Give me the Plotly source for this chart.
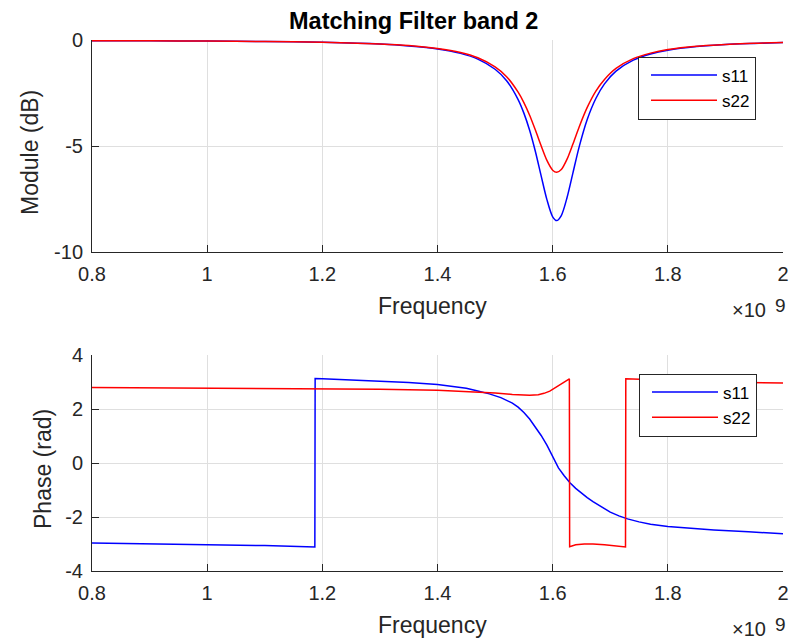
import plotly.graph_objects as go

# ---------------- data ----------------
# Magnitude (dB) vs frequency (GHz)
freq_mag_ghz = [0.80, 0.90, 1.00, 1.10, 1.20, 1.30, 1.35, 1.40, 1.44, 1.47,
                1.50, 1.52, 1.54, 1.55, 1.56, 1.57, 1.58, 1.59, 1.60, 1.607,
                1.615, 1.625, 1.635, 1.646, 1.66, 1.675, 1.69, 1.71, 1.74, 1.77,
                1.80, 1.85, 1.90, 1.95, 2.00]
s11_db = [-0.03, -0.04, -0.05, -0.07, -0.11, -0.19, -0.28, -0.42, -0.63, -0.90,
          -1.38, -1.92, -2.81, -3.45, -4.26, -5.26, -6.41, -7.53, -8.34, -8.52,
          -8.28, -7.43, -6.29, -5.04, -3.75, -2.76, -2.07, -1.47, -0.95, -0.66,
          -0.48, -0.31, -0.21, -0.16, -0.12]
s22_db = [-0.03, -0.04, -0.05, -0.07, -0.11, -0.19, -0.26, -0.40, -0.59, -0.84,
          -1.27, -1.73, -2.46, -2.95, -3.55, -4.25, -4.99, -5.68, -6.14, -6.24,
          -6.11, -5.62, -4.92, -4.10, -3.18, -2.41, -1.86, -1.34, -0.88, -0.62,
          -0.45, -0.29, -0.21, -0.15, -0.12]

# Phase (rad) vs frequency (GHz)
freq_s11_phase_ghz = [0.80, 0.90, 1.00, 1.10, 1.187, 1.1875, 1.20, 1.25, 1.30, 1.35,
                      1.40, 1.45, 1.47, 1.49, 1.51, 1.53, 1.54, 1.55, 1.56, 1.57,
                      1.58, 1.59, 1.60, 1.605, 1.61, 1.62, 1.63, 1.64, 1.65, 1.66,
                      1.67, 1.68, 1.69, 1.70, 1.715, 1.73, 1.75, 1.77, 1.80, 1.84,
                      1.88, 1.94, 2.00]
s11_phase = [-2.96, -2.99, -3.02, -3.06, -3.11, 3.13, 3.12, 3.08, 3.03, 2.98,
             2.91, 2.77, 2.67, 2.56, 2.42, 2.22, 2.07, 1.87, 1.63, 1.34,
             1.02, 0.66, 0.22, 0.02, -0.18, -0.47, -0.73, -0.94, -1.12, -1.28,
             -1.43, -1.56, -1.70, -1.82, -1.96, -2.07, -2.18, -2.27, -2.35, -2.42,
             -2.48, -2.55, -2.62]

freq_s22_phase_ghz = [0.80, 1.00, 1.20, 1.30, 1.40, 1.45, 1.50, 1.53, 1.56, 1.575,
                      1.585, 1.595, 1.605, 1.615, 1.622, 1.629, 1.6295, 1.632, 1.64, 1.655,
                      1.67, 1.69, 1.71, 1.7265, 1.727, 1.75, 1.80, 1.90, 2.00]
s22_phase = [2.80, 2.78, 2.75, 2.73, 2.69, 2.65, 2.59, 2.54, 2.51, 2.53,
             2.58, 2.66, 2.79, 2.92, 3.02, 3.12, -3.10, -3.08, -3.03, -3.00,
             -3.00, -3.03, -3.07, -3.11, 3.12, 3.10, 3.05, 2.99, 2.96]

x_tick_vals_ghz = [0.8, 1.0, 1.2, 1.4, 1.6, 1.8, 2.0]
x_tick_labels = ["0.8", "1", "1.2", "1.4", "1.6", "1.8", "2"]
mag_tick_vals = [-10, -5, 0]
mag_tick_labels = ["-10", "-5", "0"]
phase_tick_vals = [-4, -2, 0, 2, 4]
phase_tick_labels = ["-4", "-2", "0", "2", "4"]

GHZ = 1e9
FONT = "Liberation Sans, Arial, Helvetica, sans-serif"
AXC = "#262626"
GRID = "#dfdfdf"
OFF = 8  # page body margin of the browser
W, H = 801 - OFF, 642 - OFF
# plot area in window pixels: x 92..783, y 40..571
ML, MR, MT, MB = 92 - OFF, 801 - 783, 40 - OFF, 642 - 571
PW, PH = W - ML - MR, H - MT - MB


def px(x):
    return (x - OFF - ML) / PW


def py(y):
    return (H - MB - (y - OFF)) / PH


fig = go.Figure()
fig.add_trace(go.Scatter(x=[f * GHZ for f in freq_mag_ghz], y=s11_db, name="s11",
                         mode="lines", line=dict(color="#0000ff", width=1.5, shape="spline", smoothing=0.8),
                         xaxis="x", yaxis="y", legend="legend"))
fig.add_trace(go.Scatter(x=[f * GHZ for f in freq_mag_ghz], y=s22_db, name="s22",
                         mode="lines", line=dict(color="#ff0000", width=1.5, shape="spline", smoothing=0.8),
                         xaxis="x", yaxis="y", legend="legend"))
fig.add_trace(go.Scatter(x=[f * GHZ for f in freq_s11_phase_ghz], y=s11_phase, name="s11",
                         mode="lines", line=dict(color="#0000ff", width=1.5),
                         xaxis="x2", yaxis="y2", legend="legend2"))
fig.add_trace(go.Scatter(x=[f * GHZ for f in freq_s22_phase_ghz], y=s22_phase, name="s22",
                         mode="lines", line=dict(color="#ff0000", width=1.5),
                         xaxis="x2", yaxis="y2", legend="legend2"))

axis_common = dict(showline=True, linecolor=AXC, linewidth=1, mirror=False,
                   ticks="inside", ticklen=7, tickcolor=AXC, tickwidth=1,
                   showgrid=True, gridcolor=GRID, gridwidth=1, zeroline=False,
                   ticklabelstandoff=4,
                   tickfont=dict(family=FONT, size=20, color=AXC))

top_dom = [py(252), 1.0]
bot_dom = [0.0, py(355)]

legend_common = dict(xanchor="left", yanchor="top",
                     bgcolor="white", bordercolor=AXC, borderwidth=1,
                     font=dict(family=FONT, size=17, color="black"),
                     itemwidth=66, tracegroupgap=0, indentation=7)

fig.update_layout(
    width=W, height=H,
    margin=dict(l=ML, r=MR, t=MT, b=MB),
    paper_bgcolor="white", plot_bgcolor="white",
    font=dict(family=FONT, color=AXC),
    xaxis=dict(domain=[0, 1], anchor="y", range=[0.8 * GHZ, 2.0 * GHZ],
               tickvals=[v * GHZ for v in x_tick_vals_ghz], ticktext=x_tick_labels, **axis_common),
    yaxis=dict(domain=top_dom, anchor="x", range=[-10, 0],
               tickvals=mag_tick_vals, ticktext=mag_tick_labels, **axis_common),
    xaxis2=dict(domain=[0, 1], anchor="y2", range=[0.8 * GHZ, 2.0 * GHZ],
                tickvals=[v * GHZ for v in x_tick_vals_ghz], ticktext=x_tick_labels, **axis_common),
    yaxis2=dict(domain=bot_dom, anchor="x2", range=[-4, 4],
                tickvals=phase_tick_vals, ticktext=phase_tick_labels, **axis_common),
    legend=dict(x=px(638), y=py(56.5), **legend_common),
    legend2=dict(x=px(639), y=py(373.5), **legend_common),
    showlegend=True,
)

ann = []
ann.append(dict(text="<b>Matching Filter band 2</b>", x=px(413), y=py(21), xref="paper", yref="paper",
                xanchor="center", yanchor="middle", showarrow=False,
                font=dict(family=FONT, size=23.5, color="black")))
for yc in (306, 625):
    ann.append(dict(text="Frequency", x=px(432), y=py(yc), xref="paper", yref="paper",
                    xanchor="center", yanchor="middle", showarrow=False,
                    font=dict(family=FONT, size=23, color=AXC)))
for yc in (310, 629):
    ann.append(dict(text="×10", x=px(768), y=py(yc), xref="paper", yref="paper",
                    xanchor="right", yanchor="middle", showarrow=False,
                    font=dict(family=FONT, size=20, color=AXC)))
    ann.append(dict(text="9", x=px(773), y=py(yc - 5), xref="paper", yref="paper",
                    xanchor="left", yanchor="middle", showarrow=False,
                    font=dict(family=FONT, size=19, color=AXC)))
ann.append(dict(text="Module (dB)", x=px(30), y=py(153), xref="paper", yref="paper",
                xanchor="center", yanchor="middle", textangle=-90, showarrow=False,
                font=dict(family=FONT, size=23, color=AXC)))
ann.append(dict(text="Phase (rad)", x=px(43), y=py(469), xref="paper", yref="paper",
                xanchor="center", yanchor="middle", textangle=-90, showarrow=False,
                font=dict(family=FONT, size=23, color=AXC)))
fig.update_layout(annotations=ann)

fig.write_html("out.html")
